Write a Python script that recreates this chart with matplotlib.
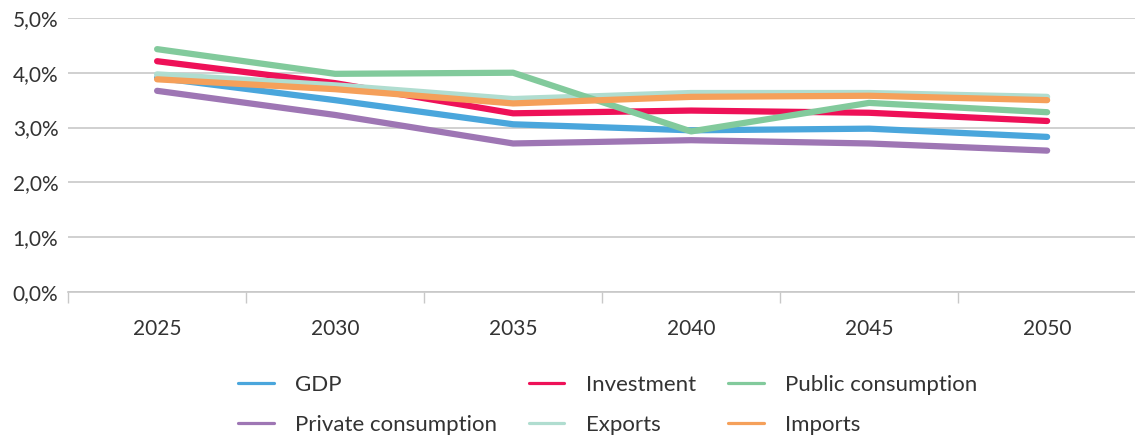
import matplotlib.pyplot as plt
import numpy as np

#%%
# data (growth, %)
years = ["2025", "2030", "2035", "2040", "2045", "2050"]
gdp = [3.91, 3.50, 3.06, 2.95, 2.98, 2.83]
investment = [4.21, 3.81, 3.26, 3.31, 3.27, 3.12]
public_cons = [4.43, 3.98, 4.00, 2.93, 3.45, 3.28]
private_cons = [3.67, 3.23, 2.71, 2.77, 2.71, 2.58]
exports = [3.97, 3.77, 3.52, 3.63, 3.63, 3.56]
imports = [3.88, 3.70, 3.44, 3.56, 3.58, 3.50]

series = [("GDP", gdp, "#4AA6DC"),
          ("Private consumption", private_cons, "#9E76B4"),
          ("Investment", investment, "#EE1158"),
          ("Exports", exports, "#B0DDD0"),
          ("Public consumption", public_cons, "#82CA9C"),
          ("Imports", imports, "#F5A05A")]

#%%
plt.rcParams["font.family"] = ["Lato", "DejaVu Sans"]
txt = "#333333"

fig = plt.figure(figsize=(11.35, 4.36), dpi=100)
ax = fig.add_axes([0.060, 0.330, 0.941, 0.629])

x = np.arange(len(years))
for name, vals, col in series:
    ax.plot(x, vals, color=col, lw=4.5, solid_capstyle="round",
            solid_joinstyle="round", label=name)

ax.set_xlim(-0.5, len(years) - 0.5)
ax.set_ylim(0, 5)
ax.set_yticks(np.arange(0, 5.01, 1))
ax.set_yticklabels([f"{v:.1f}%".replace(".", ",") for v in np.arange(0, 5.01, 1)])
ax.yaxis.grid(True, color="#c8c8c8", lw=1.2)
ax.set_axisbelow(True)

# category axis: ticks between categories, labels at centres
ax.set_xticks(np.arange(-0.5, len(years), 1))
ax.set_xticklabels([])
ax.set_xticks(x, minor=True)
ax.set_xticklabels(years, minor=True)
ax.tick_params(axis="x", which="major", length=8, width=1, color="#c8c8c8")
ax.tick_params(axis="x", which="minor", length=0, pad=19, labelsize=15,
               labelcolor=txt)
ax.tick_params(axis="y", length=0, pad=7, labelsize=15, labelcolor=txt)

for s in ["left", "right", "top"]:
    ax.spines[s].set_visible(False)
ax.spines["bottom"].set_color("#c8c8c8")
ax.spines["bottom"].set_linewidth(1.2)

leg = ax.legend(loc="upper center", bbox_to_anchor=(0.505, -0.229), ncol=3,
                frameon=False, fontsize=16, handlelength=1.6,
                handletextpad=0.95, columnspacing=1.45, labelspacing=0.9)
for h in leg.get_lines():
    h.set_linewidth(2.3)
for t in leg.get_texts():
    t.set_color(txt)

plt.savefig("out.png", dpi=100)
